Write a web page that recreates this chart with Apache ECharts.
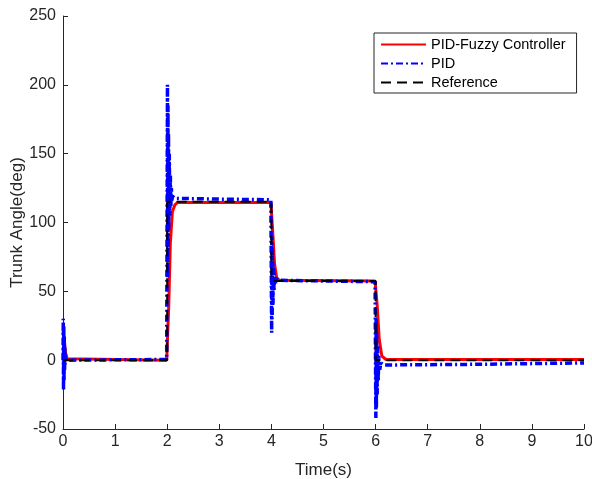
<!DOCTYPE html>
<html>
<head>
<meta charset="utf-8">
<script src="https://cdn.jsdelivr.net/npm/echarts@6/dist/echarts.min.js"></script>
<style>html,body{margin:0;padding:0;background:#fff;}#c{width:592px;height:479px;}</style>
</head>
<body>
<div id="c"></div>
<script>
var xTicks = [0,1,2,3,4,5,6,7,8,9,10];
var yTicks = [-50,0,50,100,150,200,250];

var refT = [0, 2, 2, 4, 4, 6, 6, 10];
var refY = [0, 0, 115, 115, 57.5, 57.5, 0, 0];

var fuzzyT = [0, 0.02, 0.05, 0.08, 0.1, 1.99, 2.0, 2.03, 2.06, 2.1, 2.15, 2.2, 3.99, 4.0, 4.03, 4.06, 4.1, 4.15, 5.99, 6.0, 6.03, 6.07, 6.12, 6.2, 10];
var fuzzyY = [22, 15, 5, 1, 0, 0, 0, 40, 85, 108, 113, 114.5, 114.5, 114.5, 90, 70, 60, 58, 57.5, 57.5, 40, 15, 3, 0.5, 0.5];

var pidT = [0, 0.005, 0.01, 0.015, 0.02, 0.025, 0.03, 0.035, 0.04, 0.05, 0.06, 0.08, 1.99, 2.0, 2.005, 2.01, 2.015, 2.02, 2.025, 2.03, 2.04, 2.05, 2.06, 2.07, 2.08, 2.09, 2.1, 2.15, 3.0, 3.99, 4.0, 4.005, 4.01, 4.015, 4.02, 4.03, 4.04, 4.05, 4.06, 4.08, 4.1, 4.15, 5.99, 6.0, 6.005, 6.01, 6.015, 6.02, 6.03, 6.04, 6.05, 6.06, 6.08, 6.1, 6.15, 8, 10];
var pidY = [0, 30, -22, 25, -15, 18, -8, 10, -3, 4, 0, 1, 0.5, 0, 200, 60, 185, 80, 165, 95, 150, 105, 135, 112, 125, 116, 119, 117.5, 117, 116.5, 116, 20, 90, 30, 80, 40, 70, 50, 63, 56, 59, 58, 57, 57, -42, 30, -35, 20, -25, 10, -15, 3, -7, -2, -3.5, -3, -2];

function pairs(t, y){ return t.map(function(v,i){ return [v, y[i]]; }); }

var axisColor = '#262626';
var chart = echarts.init(document.getElementById('c'));
chart.setOption({
  animation: false,
  backgroundColor: '#ffffff',
  grid: { left: 63, right: 8, top: 16, bottom: 50, containLabel: false, outerBoundsMode: 'none' },
  xAxis: {
    type: 'value', min: 0, max: 10, interval: 1,
    name: 'Time(s)', nameLocation: 'middle', nameGap: 33,
    nameTextStyle: { fontFamily: 'Liberation Sans', fontSize: 17, color: axisColor },
    axisLine: { show: true, onZero: false, lineStyle: { color: axisColor, width: 1 } },
    axisTick: { show: true, inside: true, length: 5, lineStyle: { color: axisColor } },
    axisLabel: { fontFamily: 'Liberation Sans', fontSize: 16, color: axisColor, margin: 5 },
    splitLine: { show: false }
  },
  yAxis: {
    type: 'value', min: -50, max: 250, interval: 50,
    name: 'Trunk Angle(deg)', nameLocation: 'middle', nameGap: 37, nameRotate: 90,
    nameMoveOverlap: false,
    nameTextStyle: { fontFamily: 'Liberation Sans', fontSize: 17, color: axisColor },
    axisLine: { show: true, onZero: false, lineStyle: { color: axisColor, width: 1 } },
    axisTick: { show: true, inside: true, length: 5, lineStyle: { color: axisColor } },
    axisLabel: { fontFamily: 'Liberation Sans', fontSize: 16, color: axisColor, margin: 7 },
    splitLine: { show: false }
  },
  legend: {
    orient: 'vertical', left: 374, top: 33,
    itemWidth: 45, itemHeight: 14, itemGap: 4,
    padding: [4, 11, 3, 6],
    backgroundColor: '#ffffff', borderColor: axisColor, borderWidth: 1, borderRadius: 0,
    itemStyle: { opacity: 0 },
    textStyle: { fontFamily: 'Liberation Sans', fontSize: 14.5, color: '#000' },
    data: ['PID-Fuzzy Controller', 'PID', 'Reference']
  },
  series: [
    { name: 'PID-Fuzzy Controller', type: 'line', symbol: 'none', data: pairs(fuzzyT, fuzzyY),
      lineStyle: { color: '#ff0000', width: 3 }, itemStyle: { color: '#ff0000' } },
    { name: 'PID', type: 'line', symbol: 'none', data: pairs(pidT, pidY),
      lineStyle: { color: '#0000ff', width: 3.5, type: [7, 3, 2, 3] }, itemStyle: { color: '#0000ff' } },
    { name: 'Reference', type: 'line', symbol: 'none', data: pairs(refT, refY),
      lineStyle: { color: '#000000', width: 2, type: [10, 6] }, itemStyle: { color: '#000000' } }
  ]
});
</script>
</body>
</html>
